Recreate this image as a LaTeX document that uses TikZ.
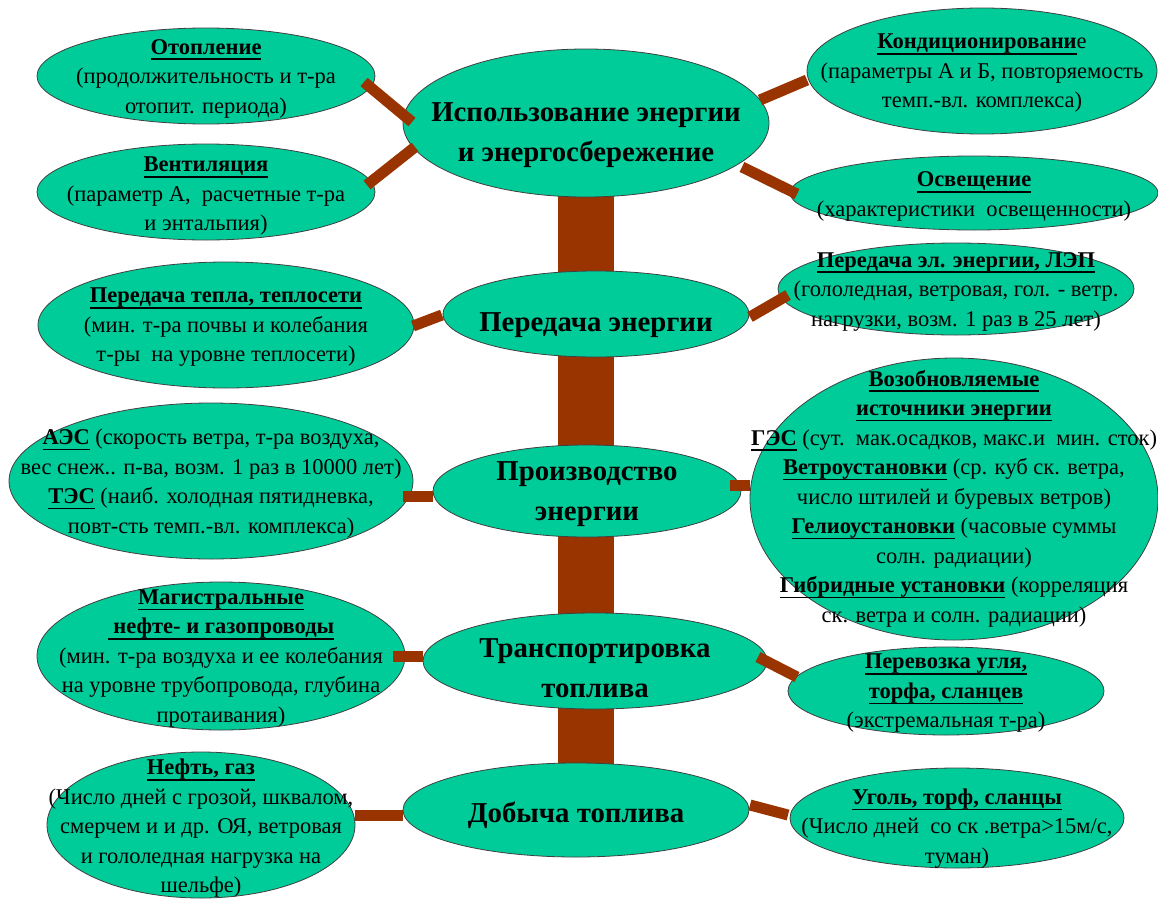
\documentclass[tikz,border=0pt]{standalone}
\usepackage{fontspec}
\setmainfont{Liberation Serif}
\usetikzlibrary{shapes.geometric,backgrounds,calc}
\definecolor{leafgreen}{RGB}{0,204,153}
\definecolor{bark}{RGB}{153,51,0}
% bold heading with a heavier underline
\newcommand{\hd}[1]{\textbf{\setbox0=\hbox{#1}\rlap{\vrule width\wd0 height -4.2pt depth 5.8pt}\box0}}

\begin{document}
\begin{tikzpicture}[x=1pt, y=-1pt,
    leaf/.style 2 args={ellipse, draw=black!75, line width=0.8pt, fill=leafgreen,
      minimum width=#1, minimum height=#2, inner sep=0pt},
    txt/.style={align=center, inner sep=0pt, yshift=-2.5pt,
      font=\fontsize{22.5}{29.5}\selectfont},
    hubtxt/.style={align=center, inner sep=0pt, yshift=-3pt,
      font=\fontsize{28.8}{40}\selectfont\bfseries},
    branch/.style={draw=bark, line width=11pt}]
    \useasboundingbox (0,0) rectangle (1158,899);
    % Ellipses, centre column
    \node[leaf={366}{148}] (use) at (586,123) {};
    \node[leaf={306}{86}] (trans) at (596,314) {};
    \node[leaf={308}{92}] (prod) at (587,491) {};
    \node[leaf={344}{96}] (transp) at (595,661) {};
    \node[leaf={346}{94}] (dig) at (576,810) {};
    % Ellipses, left
    \node[leaf={338}{96}] (heat) at (206,76) {};
    \node[leaf={338}{96}] (vent) at (206,192) {};
    \node[leaf={376}{126}] (heatnet) at (226,325) {};
    \node[leaf={404}{156}] (nuke) at (211,481) {};
    \node[leaf={368}{148}] (pipe) at (221,656) {};
    \node[leaf={308}{146}] (oil) at (201,825) {};
    % Ellipses, right
    \node[leaf={350}{126}] (cond) at (982,71) {};
    \node[leaf={368}{74}] (light) at (974,193) {};
    \node[leaf={356}{92}] (grid) at (956,289) {};
    \node[leaf={408}{282}] (renew) at (954,499) {};
    \node[leaf={316}{88}] (coal) at (946,691) {};
    \node[leaf={334}{100}] (fuel) at (957,818) {};
    % Trunk
    \begin{pgfonlayer}{background}
      \draw[bark, line width=56pt] (use.center) -- (use.center |- dig.center);
    \end{pgfonlayer}
    % Branches
    \draw[branch] ($(heat)+(158,6)$) -- ($(use)+(-174,-1)$);
    \draw[branch] ($(vent)+(161,-7)$) -- ($(use)+(-171,24)$);
    \draw[branch] ($(use)+(174,-23)$) -- ($(cond)+(-175,9)$);
    \draw[branch] ($(use)+(156,44)$) -- ($(light)+(-177,1)$);
    \draw[branch] ($(heatnet)+(187,1)$) -- ($(trans)+(-154,1)$);
    \draw[branch] ($(trans)+(154,3)$) -- ($(grid)+(-168,6)$);
    \draw[branch] ($(nuke)+(192,15)$) -- ($(prod)+(-154,5)$);
    \draw[branch] ($(prod)+(143,-6)$) -- ($(renew)+(-204,-14)$);
    \draw[branch] ($(pipe)+(172,0)$) -- ($(transp)+(-172,-5)$);
    \draw[branch] ($(transp)+(163,-4)$) -- ($(coal)+(-149,-14)$);
    \draw[branch] ($(oil)+(154,-10)$) -- ($(dig)+(-173,5)$);
    \draw[branch] ($(dig)+(174,-5)$) -- ($(fuel)+(-169,-3)$);
    % Texts, centre column
    \node[hubtxt] (use-t) at ([yshift=-9pt]use.center) {Использование энергии\\и энергосбережение};
    \node[hubtxt] (trans-t) at ([yshift=-8pt]trans.center) {Передача энергии};
    \node[hubtxt] (prod-t) at (prod.center) {Производство\\энергии};
    \node[hubtxt] (transp-t) at ([yshift=-4pt]transp.center) {Транспортировка\\топлива};
    \node[hubtxt] (dig-t) at ([yshift=-2pt]dig.center) {Добыча топлива};
    % Texts, left
    \node[txt] (heat-t) at (heat.center) {\hd{Отопление}\\(продолжительность и т-ра\\отопит. периода)};
    \node[txt] (vent-t) at ([yshift=-2pt]vent.center) {\hd{Вентиляция}\\(параметр А,~~расчетные т-ра\\и энтальпия)};
    \node[txt] (heatnet-t) at (heatnet.center) {\hd{Передача тепла, теплосети}\\(мин. т-ра почвы и колебания\\т-ры~~на уровне теплосети)};
    \node[txt] (nuke-t) at (nuke.center) {\hd{АЭС} (скорость ветра, т-ра воздуха,\\вес снеж.. п-ва, возм. 1 раз в 10000 лет)\\\hd{ТЭС} (наиб. холодная пятидневка,\\повт-сть темп.-вл. комплекса)};
    \node[txt] (pipe-t) at (pipe.center) {\hd{Магистральные}\\\hd{~нефте- и газопроводы}\\(мин. т-ра воздуха и ее колебания\\на уровне трубопровода, глубина\\протаивания)};
    \node[txt] (oil-t) at ([yshift=-1pt]oil.center) {\hd{Нефть, газ}\\(Число дней с грозой, шквалом,\\смерчем и и др. ОЯ, ветровая\\и гололедная нагрузка на\\шельфе)};
    % Texts, right
    \node[txt] (cond-t) at (cond.center) {\hd{Кондиционировани}е\\(параметры А и Б, повторяемость\\темп.-вл. комплекса)};
    \node[txt] (light-t) at ([yshift=-1pt]light.center) {\hd{Освещение}\\(характеристики~~освещенности)};
    \node[txt] (grid-t) at (grid.center) {\hd{Передача эл. энергии, ЛЭП}\\(гололедная, ветровая, гол. - ветр.\\нагрузки, возм. 1 раз в 25 лет)};
    \node[txt] (renew-t) at ([yshift=3pt]renew.center) {\hd{Возобновляемые}\\\hd{источники энергии}\\\hd{ГЭС} (сут.~~мак.осадков, макс.и~~мин. сток)\\\hd{Ветроустановки} (ср. куб ск. ветра,\\число штилей и~буревых ветров)\\\hd{Гелиоустановки} (часовые суммы\\солн. радиации)\\\hd{Гибридные установки} (корреляция\\ск. ветра и солн. радиации)};
    \node[txt] (coal-t) at (coal.center) {\hd{Перевозка угля,}\\\hd{торфа, сланцев}\\(экстремальная т-ра)};
    \node[txt] (fuel-t) at ([yshift=-8pt]fuel.center) {\hd{Уголь, торф, сланцы}\\(Число дней~~со ск .ветра>15м/с,\\туман)};
\end{tikzpicture}
\end{document}
